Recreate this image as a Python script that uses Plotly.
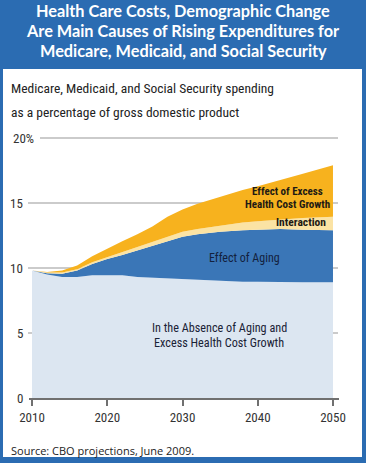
import plotly.graph_objects as go

years = [2010, 2012, 2014, 2016, 2018, 2020, 2022, 2024, 2026, 2028, 2030, 2032, 2035, 2038, 2040, 2043, 2046, 2050]
absence = [9.8, 9.5, 9.3, 9.3, 9.45, 9.45, 9.45, 9.3, 9.25, 9.15, 9.1, 9.05, 9.0, 8.95, 8.95, 8.9, 8.9, 8.9]
aging = [0.0, 0.1, 0.25, 0.5, 0.85, 1.25, 1.55, 2.05, 2.5, 2.95, 3.3, 3.55, 3.8, 3.95, 4.0, 4.1, 4.05, 4.0]
interaction = [0.0, 0.05, 0.1, 0.1, 0.15, 0.15, 0.2, 0.25, 0.25, 0.3, 0.4, 0.4, 0.45, 0.6, 0.65, 0.75, 0.9, 1.05]
excess = [0.0, 0.05, 0.15, 0.3, 0.45, 0.65, 0.85, 1.0, 1.2, 1.55, 1.7, 1.95, 2.25, 2.5, 2.7, 3.0, 3.4, 3.95]

x_ticks = [2010, 2020, 2030, 2040, 2050]
y_ticks = [0, 5, 10, 15, 20]
y_tick_labels = ["0", "5", "10", "15", "20%"]

title_lines = ["Health Care Costs, Demographic Change",
               "Are Main Causes of Rising Expenditures for",
               "Medicare, Medicaid, and Social Security"]
subtitle_lines = ["Medicare, Medicaid, and Social Security spending",
                  "as a percentage of gross domestic product"]
source_text = "Source: CBO projections, June 2009."

W, H = 366, 463
L, R, T, B = 29, 27, 137, 65
PW, PH = W - L - R, H - T - B
Y_MAX = 20.08

def px(xp):
    return (xp - L) / PW

def py(yp):
    return (H - B - yp) / PH

BLUE_FRAME = "#2b6cb2"
NARROW = "Liberation Sans Narrow, Roboto Condensed, Arial Narrow, sans-serif"

fig = go.Figure()
series = [
    ("In the Absence of Aging and Excess Health Cost Growth", absence, "#dce6f1"),
    ("Effect of Aging", aging, "#3a76b7"),
    ("Interaction", interaction, "#fbe3a4"),
    ("Effect of Excess Health Cost Growth", excess, "#f7b21e"),
]
for name, vals, col in series:
    fig.add_trace(go.Scatter(
        x=years, y=vals, name=name, mode="lines", stackgroup="one",
        line=dict(width=0, color=col), fillcolor=col, showlegend=False,
        hoverinfo="skip"))

shapes = [
    dict(type="rect", xref="paper", yref="paper", x0=px(3), x1=px(362), y0=py(457), y1=py(69),
         fillcolor="white", line=dict(width=0), layer="below"),
]
for v in y_ticks[1:]:
    shapes.append(dict(type="line", xref="paper", yref="y",
                       x0=px(40) if v == 20 else px(28), x1=px(338), y0=v, y1=v,
                       line=dict(color="#bababa", width=1.6), layer="below"))

annotations = []
for i, line in enumerate(title_lines):
    annotations.append(dict(text="<b>" + line + "</b>", x=px(183), y=py(10.5 + 20 * i), xref="paper", yref="paper",
                            xanchor="center", yanchor="middle", showarrow=False,
                            font=dict(family="Lato, sans-serif", size=16.3, color="white")))
for i, line in enumerate(subtitle_lines):
    annotations.append(dict(text=line, x=px(9), y=py(88 + 24 * i), xref="paper", yref="paper",
                            xanchor="left", yanchor="middle", showarrow=False,
                            font=dict(family=NARROW, size=13.5, color="#222222")))
for v, lab in zip(y_ticks, y_tick_labels):
    annotations.append(dict(text=lab, x=px(11) if v == 20 else px(25), y=v, xref="paper", yref="y",
                            xanchor="left" if v == 20 else "right", yanchor="middle", showarrow=False,
                            font=dict(family=NARROW, size=13, color="#333333")))
inner_labels = [
    ("<b>Effect of Excess</b>", 287, 191, "#1e1a14", 11),
    ("<b>Health Cost Growth</b>", 287, 204, "#1e1a14", 11),
    ("<b>Interaction</b>", 301, 222, "#1e1a14", 11.5),
    ("Effect of Aging", 244, 258, "#13213d", 12),
    ("In the Absence of Aging and", 219, 328, "#1a2236", 12.2),
    ("Excess Health Cost Growth", 219, 343, "#1a2236", 12.2),
]
for txt, lx, ly, col, sz in inner_labels:
    annotations.append(dict(text=txt, x=px(lx), y=py(ly), xref="paper", yref="paper",
                            xanchor="center", yanchor="middle", showarrow=False,
                            font=dict(family=NARROW, size=sz, color=col)))
annotations.append(dict(text=source_text, x=px(9), y=py(450), xref="paper", yref="paper",
                        xanchor="left", yanchor="middle", showarrow=False,
                        font=dict(family="Open Sans, sans-serif", size=11, color="#222222")))

fig.update_layout(
    width=W, height=H, margin=dict(l=L, r=R, t=T, b=B),
    paper_bgcolor=BLUE_FRAME, plot_bgcolor="rgba(0,0,0,0)",
    shapes=shapes, annotations=annotations,
    xaxis=dict(range=[2009.6, 2050.8], tickvals=x_ticks, ticktext=[str(t) for t in x_ticks],
               showgrid=False, zeroline=False, showline=True, linecolor="#707070", linewidth=2,
               ticks="outside", ticklen=6, tickcolor="#707070", tickwidth=2,
               tickfont=dict(family=NARROW, size=13, color="#333333"), fixedrange=True),
    yaxis=dict(range=[0, Y_MAX], showgrid=False, zeroline=False, showticklabels=False,
               fixedrange=True),
    showlegend=False,
)
fig.write_html("out.html", config={"displayModeBar": False},
               post_script="document.body.style.margin='0';document.body.style.overflow='hidden';")
